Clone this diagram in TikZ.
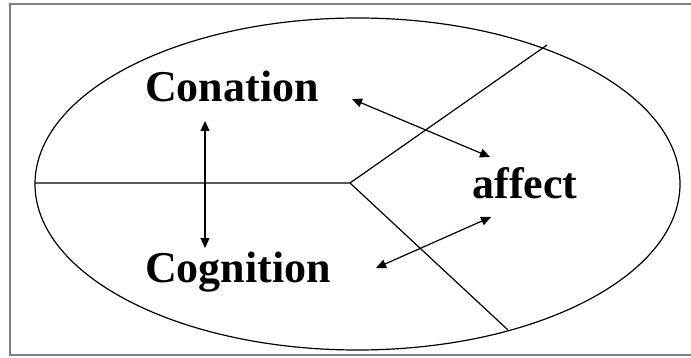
\documentclass[tikz,border=0pt]{standalone}
\usepackage{fontspec}
\setmainfont{Liberation Serif}
\usepackage{tikz}
\usetikzlibrary{arrows.meta}

\begin{document}
\begin{tikzpicture}[
  x=0.5pt, y=-0.5pt,
  label/.style={font=\fontsize{22}{26}\selectfont\bfseries, inner sep=0pt},
  arr/.style={{Triangle[length=5pt,width=4.5pt]}-{Triangle[length=5pt,width=4.5pt]}, line width=0.6pt},
  part/.style={line width=0.6pt},
]
  \useasboundingbox (0,0) rectangle (691,358);
  \draw[gray, line width=1pt] (692,4) -- (10,4) -- (10,355) -- (692,355);

  \draw[part] (357.5,184) ellipse [x radius=322.5, y radius=166];
  \coordinate (mid) at (350,183);
  \coordinate (left) at (35,183);
  \coordinate (upper) at (547,45);
  \coordinate (lower) at (508,330);
  \draw[part] (left) -- (mid) -- (upper);
  \draw[part] (mid) -- (lower);

  \node[label] (conation) at (232,86) {Conation};
  \node[label] (cognition) at (238,272) {Cognition};
  \node[label] (affect) at (525,183) {affect};

  \coordinate (c1) at (205,121);
  \coordinate (c2) at (205,248);
  \coordinate (a1) at (352,99);
  \coordinate (a2) at (490,157);
  \coordinate (b1) at (376,268);
  \coordinate (b2) at (491,217);
  \draw[arr] (c1) -- (c2);
  \draw[arr] (a1) -- (a2);
  \draw[arr] (b1) -- (b2);
\end{tikzpicture}
\end{document}
